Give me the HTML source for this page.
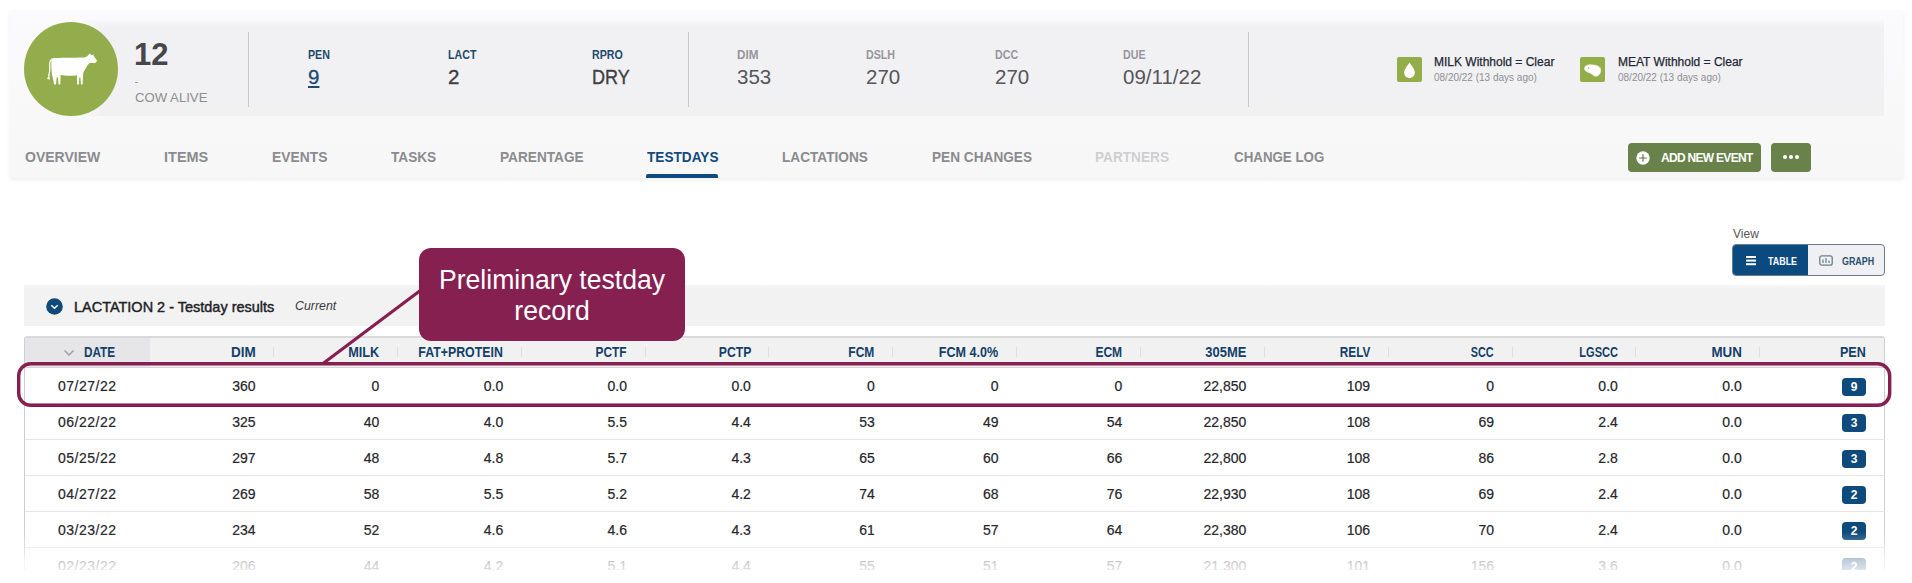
<!DOCTYPE html>
<html><head><meta charset="utf-8">
<style>
*{box-sizing:border-box;margin:0;padding:0}
html,body{width:1912px;height:583px;overflow:hidden;background:#fff;font-family:"Liberation Sans",Arial,sans-serif;color:#333}
.abs{position:absolute}
#card{left:10px;top:10px;width:1893px;height:168px;background:linear-gradient(#fbfafc 0,#f8f8f9 110px,#f7f7f8 168px);box-shadow:0 2px 4px rgba(0,0,0,0.07)}
#info{left:84px;top:20px;width:1800px;height:96px;background:linear-gradient(#f7f6f9 0,#f1f0f3 7px,#f1f1f2 100%)}
#avatar{left:24px;top:22px;width:94px;height:94px;border-radius:50%;background:#94ad4c}
.sep{width:1px;background:#c8c8cb}
.lbl{font-size:13px;font-weight:bold;color:#1e4a6e;white-space:nowrap;transform:scaleX(0.82);transform-origin:0 0;line-height:15px}
.lbl.g{color:#96969c}
.val{font-size:20.5px;color:#55555b;white-space:nowrap;line-height:22px}
.tab{top:148px;font-size:15.5px;font-weight:bold;color:#8b8b90;white-space:nowrap;transform:scaleX(0.88);transform-origin:0 0;line-height:17px}
.btn{background:#688249;border-radius:4px;color:#fff}
.th{position:absolute;top:343.8px;font-size:14px;font-weight:bold;color:#133f69;white-space:nowrap;transform:scaleX(0.92);transform-origin:100% 0;line-height:16px}
.vs{position:absolute;top:347px;width:1px;height:10px;background:#dedee1}
.td{position:absolute;font-size:14px;color:#25252a;white-space:nowrap;line-height:36px;-webkit-text-stroke:0.2px #25252a}
.hs{position:absolute;left:25px;width:1860px;height:1px;background:#e6e6e8}
.badge{position:absolute;width:24px;height:18px;border-radius:4px;background:#0f4a7c;color:#fff;font-size:12px;font-weight:bold;text-align:center;line-height:18px}
</style></head>
<body>
<div id="card" class="abs"></div>
<div id="info" class="abs"></div>
<div class="abs" style="left:84px;top:20px;width:18px;height:96px;background:linear-gradient(to right,#f8f8f9,rgba(248,248,249,0))"></div>
<div id="avatar" class="abs">
<svg width="94" height="94" viewBox="0 0 94 94" style="position:absolute;left:0;top:0">
<path fill="#fff" d="M27.5 36.5 C35 35.5 52 36 60.5 35.6 C62 35 63.5 34 64.5 33 L65.6 31.6 L67.2 33 L69.5 32.6 L69.8 34.2 C71 35.5 72.5 37.2 73 38.8 C72.5 40.5 71.2 41.2 70 41.1 C68 41 66.5 40.8 65.5 41 C64 42.5 62.8 44 62.2 45.5 C61 47.5 59.8 49.5 59.2 51 L58.6 62.5 L56.9 62.5 L56.4 55.5 L55.2 55.5 L54.9 62.5 L53.2 62.5 L53 53.2 C48 54 41 54 36.6 53 L36.3 62.5 L34.6 62.5 L34 55.5 L32.6 55.5 L32 62.5 L30.2 62.5 C29.5 59 29 56 28 53 C27.5 48 27 42 27.5 36.5 Z"/>
<path fill="none" stroke="#fff" stroke-width="1.3" d="M27.4 37.5 C25.5 38.5 25.5 41 25.8 45 C26 48 25.5 51 24.8 54"/>
<path fill="#fff" d="M24.8 52.5 L26.1 57.6 L23.1 57 Z"/>
</svg>
</div>
<div class="abs" style="left:134px;top:37.5px;font-size:31px;font-weight:bold;color:#46464b;line-height:33px;transform:scaleX(1);transform-origin:0 0">12</div>
<div class="abs" style="left:135px;top:82px;width:3px;height:1px;background:#9a9a9f"></div>
<div class="abs" style="left:134.5px;top:89.5px;font-size:13.5px;color:#8e8e93;line-height:15px;transform:scaleX(0.975);transform-origin:0 0">COW ALIVE</div>
<div class="abs sep" style="left:248px;top:32px;height:75px"></div>
<div class="abs sep" style="left:688px;top:32px;height:75px"></div>
<div class="abs sep" style="left:1248px;top:32px;height:75px"></div>

<div class="abs lbl" style="left:308px;top:47px">PEN</div>
<div class="abs val" style="left:308px;top:66px;color:#1e4a6e;text-decoration:underline;text-underline-offset:2px;text-decoration-thickness:2px;-webkit-text-stroke:0.3px #1e4a6e">9</div>
<div class="abs lbl" style="left:448px;top:47px">LACT</div>
<div class="abs val" style="left:448px;top:66px;color:#3e3e43;-webkit-text-stroke:0.35px #3e3e43">2</div>
<div class="abs lbl" style="left:592px;top:47px">RPRO</div>
<div class="abs val" style="left:592px;top:66px;transform:scaleX(0.88);transform-origin:0 0;color:#3e3e43;-webkit-text-stroke:0.35px #3e3e43">DRY</div>
<div class="abs lbl g" style="left:737px;top:47px;transform:scaleX(0.9)">DIM</div>
<div class="abs val" style="left:737px;top:66px">353</div>
<div class="abs lbl g" style="left:866px;top:47px">DSLH</div>
<div class="abs val" style="left:866px;top:66px">270</div>
<div class="abs lbl g" style="left:995px;top:47px">DCC</div>
<div class="abs val" style="left:995px;top:66px">270</div>
<div class="abs lbl g" style="left:1123px;top:47px">DUE</div>
<div class="abs val" style="left:1123px;top:66px">09/11/22</div>

<!-- withholds -->
<div class="abs" style="left:1397px;top:57px;width:25px;height:25px;border-radius:2px;background:#93ad49">
<svg width="25" height="25" viewBox="0 0 25 25" style="position:absolute;left:0;top:0"><path fill="#fff" d="M12.5 5.5 C14 8 17.8 12 17.8 15.5 C17.8 18.8 15.4 21 12.5 21 C9.6 21 7.2 18.8 7.2 15.5 C7.2 12 11 8 12.5 5.5 Z"/></svg>
</div>
<div class="abs" style="left:1434px;top:55px;font-size:12px;color:#1f2937;white-space:nowrap;line-height:14px;-webkit-text-stroke:0.25px #1f2937">MILK Withhold = Clear</div>
<div class="abs" style="left:1434px;top:71.5px;font-size:10px;color:#8e8e93;white-space:nowrap;line-height:12px">08/20/22 (13 days ago)</div>
<div class="abs" style="left:1580px;top:57px;width:25px;height:25px;border-radius:2px;background:#93ad49">
<svg width="25" height="25" viewBox="0 0 25 25" style="position:absolute;left:0;top:0"><path fill="#fff" stroke="#e9f0d8" stroke-width="0.8" d="M4.5 11 C5 8.5 8 7.5 11 7.8 C15 8.2 19.5 8.5 20.5 12 C21.3 15 19.5 19 16 19.2 C13.5 19.3 12.5 17 10.5 16.2 C8 15.3 4 14 4.5 11 Z"/><circle cx="8.6" cy="11" r="0.8" fill="#93ad49"/></svg>
</div>
<div class="abs" style="left:1618px;top:55px;font-size:12px;color:#1f2937;white-space:nowrap;line-height:14px;-webkit-text-stroke:0.25px #1f2937">MEAT Withhold = Clear</div>
<div class="abs" style="left:1618px;top:71.5px;font-size:10px;color:#8e8e93;white-space:nowrap;line-height:12px">08/20/22 (13 days ago)</div>

<!-- tabs -->
<div class="abs tab" style="left:24.5px;transform:scaleX(0.905)">OVERVIEW</div>
<div class="abs tab" style="left:163.5px;transform:scaleX(0.935)">ITEMS</div>
<div class="abs tab" style="left:271.5px;transform:scaleX(0.895)">EVENTS</div>
<div class="abs tab" style="left:391px">TASKS</div>
<div class="abs tab" style="left:500px">PARENTAGE</div>
<div class="abs tab" style="left:647px;color:#134a7c">TESTDAYS</div>
<div class="abs" style="left:646px;top:174px;width:72px;height:4px;background:#0f4a80;border-radius:2px 2px 0 0"></div>
<div class="abs tab" style="left:782px">LACTATIONS</div>
<div class="abs tab" style="left:932px">PEN CHANGES</div>
<div class="abs tab" style="left:1095px;color:#cfcfd2">PARTNERS</div>
<div class="abs tab" style="left:1234px;transform:scaleX(0.86)">CHANGE LOG</div>

<div class="abs btn" style="left:1628px;top:143px;width:133px;height:29px">
<svg width="14" height="14" viewBox="0 0 14 14" style="position:absolute;left:8px;top:7.5px"><circle cx="7" cy="7" r="6.7" fill="#fff"/><path d="M7 3.2 V10.8 M3.2 7 H10.8" stroke="#5f7544" stroke-width="1.15"/></svg>
<div class="abs" style="left:33px;top:8px;font-size:12px;font-weight:bold;line-height:14px;white-space:nowrap;letter-spacing:-0.7px">ADD NEW EVENT</div>
</div>
<div class="abs btn" style="left:1771px;top:143px;width:40px;height:29px">
<div class="abs" style="left:12px;top:12px;width:4px;height:4px;border-radius:50%;background:#fff"></div>
<div class="abs" style="left:18px;top:12px;width:4px;height:4px;border-radius:50%;background:#fff"></div>
<div class="abs" style="left:24px;top:12px;width:4px;height:4px;border-radius:50%;background:#fff"></div>
</div>

<!-- view toggle -->
<div class="abs" style="left:1733px;top:227px;font-size:12px;color:#55555a;line-height:14px">View</div>
<div class="abs" style="left:1732px;top:244px;width:153px;height:32px;border-radius:4px;border:1.5px solid #6b7d8c;background:#eef0f3;overflow:hidden">
<div class="abs" style="left:-2px;top:-2px;width:77px;height:34px;background:#0a4a7f"></div>
<div class="abs" style="left:12.5px;top:11px;width:10px;height:1.7px;background:#fff;box-shadow:0 3.6px 0 #fff,0 7.2px 0 #fff"></div>
<div class="abs" style="left:35px;top:10px;font-size:11px;font-weight:bold;color:#fff;line-height:13px;transform:scaleX(0.81);transform-origin:0 0">TABLE</div>
<svg width="15" height="12" viewBox="0 0 15 12" style="position:absolute;left:86px;top:9.5px"><rect x="0.8" y="0.8" width="12.4" height="9.4" rx="2" fill="none" stroke="#6b7d8c" stroke-width="1.3"/><path d="M4 8 V4.5 M7 8 V3 M10 8 V5.5" stroke="#6b7d8c" stroke-width="1.2"/></svg>
<div class="abs" style="left:108.5px;top:10px;font-size:11px;font-weight:bold;color:#2b4f6e;line-height:13px;transform:scaleX(0.81);transform-origin:0 0">GRAPH</div>
</div>

<!-- lactation bar -->
<div class="abs" style="left:24px;top:285px;width:1861px;height:41px;background:linear-gradient(#f6f6f7 0,#f2f2f3 3px,#f2f2f3 100%)"></div>
<svg class="abs" width="17" height="17" viewBox="0 0 17 17" style="left:45.5px;top:298px"><circle cx="8.5" cy="8.5" r="8.3" fill="#104a7a"/><path d="M5.3 7.3 L8.5 10.3 L11.7 7.3" fill="none" stroke="#fff" stroke-width="1.5"/></svg>
<div class="abs" style="left:74px;top:297.5px;font-size:15px;color:#222226;line-height:17px;white-space:nowrap;-webkit-text-stroke:0.45px #222226;transform:scaleX(0.965);transform-origin:0 0">LACTATION 2 - Testday results</div>
<div class="abs" style="left:294.5px;top:297.5px;font-size:13px;font-style:italic;color:#3a3a3f;line-height:15px;white-space:nowrap;transform:scaleX(0.95);transform-origin:0 0">Current</div>

<!-- table -->
<div class="abs" style="left:24px;top:336px;width:1861px;height:241px;border-left:1px solid #cfcfd2;border-right:1px solid #cfcfd2;border-top:2px solid #d9d9dc;border-radius:3px 3px 0 0"></div>
<div class="abs" style="left:25px;top:338px;width:1859px;height:29px;background:#f1f1f2"></div>
<div class="abs" style="left:25px;top:338px;width:125px;height:29px;background:#e6e6e8"></div>
<div class="abs" style="left:25px;top:366.5px;width:1859px;height:1.5px;background:#d6d6d9"></div>
<svg class="abs" width="12" height="8" viewBox="0 0 12 8" style="left:62.5px;top:348.5px"><path d="M1.5 1.5 L6 6 L10.5 1.5" fill="none" stroke="#9a9aa0" stroke-width="1.3"/></svg>
<div class="th" style="left:83.5px;right:auto;transform-origin:0 0;transform:scaleX(0.84)">DATE</div>
<div class="th" style="right:1656.5px;transform:scaleX(0.964)">DIM</div>
<div class="vs" style="left:273.0px"></div>
<div class="th" style="right:1532.7px;transform:scaleX(0.906)">MILK</div>
<div class="vs" style="left:396.9px"></div>
<div class="th" style="right:1408.8px;transform:scaleX(0.882)">FAT+PROTEIN</div>
<div class="vs" style="left:520.7px"></div>
<div class="th" style="right:1285.0px;transform:scaleX(0.848)">PCTF</div>
<div class="vs" style="left:644.5px"></div>
<div class="th" style="right:1161.1px;transform:scaleX(0.872)">PCTP</div>
<div class="vs" style="left:768.4px"></div>
<div class="th" style="right:1037.2px;transform:scaleX(0.858)">FCM</div>
<div class="vs" style="left:892.2px"></div>
<div class="th" style="right:913.4px;transform:scaleX(0.897)">FCM 4.0%</div>
<div class="vs" style="left:1016.1px"></div>
<div class="th" style="right:789.6px;transform:scaleX(0.858)">ECM</div>
<div class="vs" style="left:1139.9px"></div>
<div class="th" style="right:665.7px;transform:scaleX(0.925)">305ME</div>
<div class="vs" style="left:1263.8px"></div>
<div class="th" style="right:541.9px;transform:scaleX(0.839)">RELV</div>
<div class="vs" style="left:1387.6px"></div>
<div class="th" style="right:418.0px;transform:scaleX(0.771)">SCC</div>
<div class="vs" style="left:1511.5px"></div>
<div class="th" style="right:294.2px;transform:scaleX(0.790)">LGSCC</div>
<div class="vs" style="left:1635.3px"></div>
<div class="th" style="right:170.3px;transform:scaleX(0.954)">MUN</div>
<div class="vs" style="left:1759.2px"></div>
<div class="th" style="right:46.5px;transform:scaleX(0.897)">PEN</div>
<div class="td" style="left:58px;top:368px;letter-spacing:0.5px">07/27/22</div>
<div class="td r" style="right:1656.5px;top:368px">360</div>
<div class="td r" style="right:1532.7px;top:368px">0</div>
<div class="td r" style="right:1408.8px;top:368px">0.0</div>
<div class="td r" style="right:1285.0px;top:368px">0.0</div>
<div class="td r" style="right:1161.1px;top:368px">0.0</div>
<div class="td r" style="right:1037.2px;top:368px">0</div>
<div class="td r" style="right:913.4px;top:368px">0</div>
<div class="td r" style="right:789.6px;top:368px">0</div>
<div class="td r" style="right:665.7px;top:368px">22,850</div>
<div class="td r" style="right:541.9px;top:368px">109</div>
<div class="td r" style="right:418.0px;top:368px">0</div>
<div class="td r" style="right:294.2px;top:368px">0.0</div>
<div class="td r" style="right:170.3px;top:368px">0.0</div>
<div class="badge" style="left:1842px;top:377.5px">9</div>
<div class="hs" style="top:403px"></div>
<div class="td" style="left:58px;top:404px;letter-spacing:0.5px">06/22/22</div>
<div class="td r" style="right:1656.5px;top:404px">325</div>
<div class="td r" style="right:1532.7px;top:404px">40</div>
<div class="td r" style="right:1408.8px;top:404px">4.0</div>
<div class="td r" style="right:1285.0px;top:404px">5.5</div>
<div class="td r" style="right:1161.1px;top:404px">4.4</div>
<div class="td r" style="right:1037.2px;top:404px">53</div>
<div class="td r" style="right:913.4px;top:404px">49</div>
<div class="td r" style="right:789.6px;top:404px">54</div>
<div class="td r" style="right:665.7px;top:404px">22,850</div>
<div class="td r" style="right:541.9px;top:404px">108</div>
<div class="td r" style="right:418.0px;top:404px">69</div>
<div class="td r" style="right:294.2px;top:404px">2.4</div>
<div class="td r" style="right:170.3px;top:404px">0.0</div>
<div class="badge" style="left:1842px;top:413.5px">3</div>
<div class="hs" style="top:439px"></div>
<div class="td" style="left:58px;top:440px;letter-spacing:0.5px">05/25/22</div>
<div class="td r" style="right:1656.5px;top:440px">297</div>
<div class="td r" style="right:1532.7px;top:440px">48</div>
<div class="td r" style="right:1408.8px;top:440px">4.8</div>
<div class="td r" style="right:1285.0px;top:440px">5.7</div>
<div class="td r" style="right:1161.1px;top:440px">4.3</div>
<div class="td r" style="right:1037.2px;top:440px">65</div>
<div class="td r" style="right:913.4px;top:440px">60</div>
<div class="td r" style="right:789.6px;top:440px">66</div>
<div class="td r" style="right:665.7px;top:440px">22,800</div>
<div class="td r" style="right:541.9px;top:440px">108</div>
<div class="td r" style="right:418.0px;top:440px">86</div>
<div class="td r" style="right:294.2px;top:440px">2.8</div>
<div class="td r" style="right:170.3px;top:440px">0.0</div>
<div class="badge" style="left:1842px;top:449.5px">3</div>
<div class="hs" style="top:475px"></div>
<div class="td" style="left:58px;top:476px;letter-spacing:0.5px">04/27/22</div>
<div class="td r" style="right:1656.5px;top:476px">269</div>
<div class="td r" style="right:1532.7px;top:476px">58</div>
<div class="td r" style="right:1408.8px;top:476px">5.5</div>
<div class="td r" style="right:1285.0px;top:476px">5.2</div>
<div class="td r" style="right:1161.1px;top:476px">4.2</div>
<div class="td r" style="right:1037.2px;top:476px">74</div>
<div class="td r" style="right:913.4px;top:476px">68</div>
<div class="td r" style="right:789.6px;top:476px">76</div>
<div class="td r" style="right:665.7px;top:476px">22,930</div>
<div class="td r" style="right:541.9px;top:476px">108</div>
<div class="td r" style="right:418.0px;top:476px">69</div>
<div class="td r" style="right:294.2px;top:476px">2.4</div>
<div class="td r" style="right:170.3px;top:476px">0.0</div>
<div class="badge" style="left:1842px;top:485.5px">2</div>
<div class="hs" style="top:511px"></div>
<div class="td" style="left:58px;top:512px;letter-spacing:0.5px">03/23/22</div>
<div class="td r" style="right:1656.5px;top:512px">234</div>
<div class="td r" style="right:1532.7px;top:512px">52</div>
<div class="td r" style="right:1408.8px;top:512px">4.6</div>
<div class="td r" style="right:1285.0px;top:512px">4.6</div>
<div class="td r" style="right:1161.1px;top:512px">4.3</div>
<div class="td r" style="right:1037.2px;top:512px">61</div>
<div class="td r" style="right:913.4px;top:512px">57</div>
<div class="td r" style="right:789.6px;top:512px">64</div>
<div class="td r" style="right:665.7px;top:512px">22,380</div>
<div class="td r" style="right:541.9px;top:512px">106</div>
<div class="td r" style="right:418.0px;top:512px">70</div>
<div class="td r" style="right:294.2px;top:512px">2.4</div>
<div class="td r" style="right:170.3px;top:512px">0.0</div>
<div class="badge" style="left:1842px;top:521.5px">2</div>
<div class="hs" style="top:547px"></div>
<div class="td" style="left:58px;top:548px;letter-spacing:0.5px">02/23/22</div>
<div class="td r" style="right:1656.5px;top:548px">206</div>
<div class="td r" style="right:1532.7px;top:548px">44</div>
<div class="td r" style="right:1408.8px;top:548px">4.2</div>
<div class="td r" style="right:1285.0px;top:548px">5.1</div>
<div class="td r" style="right:1161.1px;top:548px">4.4</div>
<div class="td r" style="right:1037.2px;top:548px">55</div>
<div class="td r" style="right:913.4px;top:548px">51</div>
<div class="td r" style="right:789.6px;top:548px">57</div>
<div class="td r" style="right:665.7px;top:548px">21,300</div>
<div class="td r" style="right:541.9px;top:548px">101</div>
<div class="td r" style="right:418.0px;top:548px">156</div>
<div class="td r" style="right:294.2px;top:548px">3.6</div>
<div class="td r" style="right:170.3px;top:548px">0.0</div>
<div class="badge" style="left:1842px;top:557.5px">2</div>
<!-- fade -->
<div class="abs" style="left:0;top:532px;width:1912px;height:38px;background:linear-gradient(to bottom,rgba(255,255,255,0) 0px,rgba(255,255,255,0.35) 16px,rgba(255,255,255,0.72) 28px,rgba(255,255,255,0.86) 38px)"></div>
<div class="abs" style="left:0;top:570px;width:1912px;height:13px;background:#fff"></div>

<!-- callout -->
<svg class="abs" width="1912" height="583" viewBox="0 0 1912 583" style="left:0;top:0">
<line x1="421" y1="290" x2="323" y2="363.5" stroke="#862051" stroke-width="3.2"/>
<rect x="18.7" y="363.7" width="1871" height="41.6" rx="12" ry="12" fill="none" stroke="#862051" stroke-width="3.4"/>
</svg>
<div class="abs" style="left:419px;top:248px;width:266px;height:93px;border-radius:12px;background:#862051"></div>
<div class="abs" style="left:419px;top:265.2px;width:266px;text-align:center;font-size:27px;color:#fff;line-height:30.6px;transform:scaleX(0.985);transform-origin:50% 0">Preliminary testday<br>record</div>
</body></html>
